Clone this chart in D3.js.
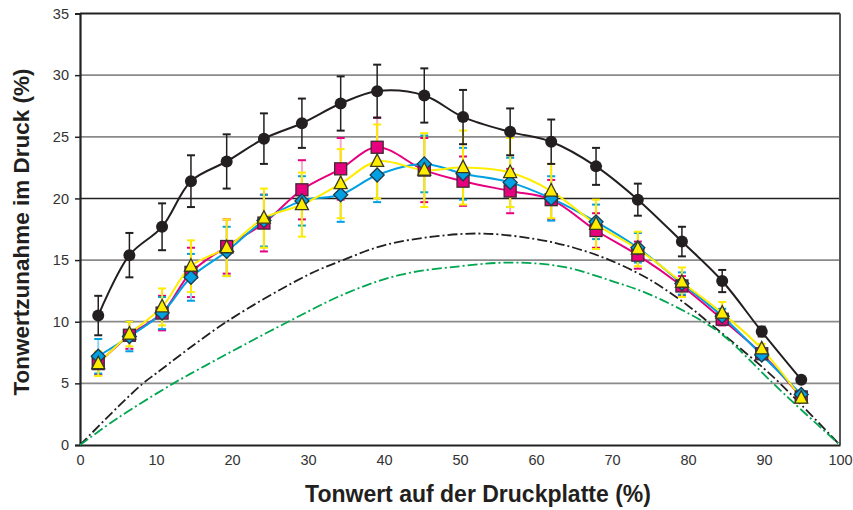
<!DOCTYPE html>
<html><head><meta charset="utf-8">
<script src="https://cdn.jsdelivr.net/npm/d3@7"></script>
<style>body{margin:0;background:#fff}svg{display:block}text{font-family:"Liberation Sans",Arial,sans-serif}</style>
</head><body><svg id="c" width="853" height="510"></svg>
<script>
const xVals = [2.4,6.5,10.8,14.6,19.3,24.2,29.2,34.3,39.1,45.3,50.4,56.6,62.0,67.9,73.4,79.2,84.5,89.7,94.9];
const blackVals = [10.5,15.4,17.7,21.4,23.0,24.85,26.1,27.7,28.7,28.35,26.6,25.4,24.6,22.6,19.9,16.5,13.3,9.2,5.3];
const blackErr  = [1.6,1.8,1.9,2.1,2.2,2.05,2.0,2.2,2.15,2.2,2.2,1.9,1.8,1.5,1.3,1.2,0.9,0.4,0.2];
const magentaVals = [6.6,8.9,10.7,14.0,16.1,18.0,20.7,22.4,24.15,22.3,21.4,20.6,19.9,17.4,15.4,12.9,10.2,7.4,3.9];
const magentaErr  = [0.9,1.1,1.4,2.0,2.2,2.3,2.4,2.5,2.4,2.6,2.0,1.8,1.6,1.4,1.1,0.8,0.5,0.3,0.2];
const yellowVals = [6.6,9.0,11.2,14.5,16.0,18.4,19.5,21.2,23.0,22.3,22.5,22.1,20.6,17.9,15.9,13.2,10.7,7.8,3.8];
const yellowErr  = [1.0,1.0,1.5,2.1,2.3,2.4,2.6,2.8,3.0,3.0,3.0,2.8,2.2,2.0,1.4,1.2,0.9,0.4,0.2];
const cyanVals = [7.2,8.8,10.7,13.6,15.7,18.2,19.8,20.3,21.9,22.8,22.0,21.3,20.0,18.1,16.0,13.1,10.45,7.3,4.1];
const cyanErr  = [1.4,1.2,1.3,1.9,2.0,2.1,2.0,2.2,2.2,2.3,2.1,2.0,1.8,1.4,1.2,0.9,0.6,0.3,0.2];
const refBlackX = [0,5,8.3,10,19.3,30,34.6,40,46.4,53,60,65,69.7,75,80,82.6,85,90,92.1,95,100];
const refBlackY = [0,3.1,5,5.8,10,13.8,15,16.2,16.9,17.15,16.7,16.0,15,13.4,11.3,10,8.8,6.2,5,3.2,0];
const refGreenX = [0,5,12.3,15.8,20,27.4,35,42.1,50,57,63.6,70,75,82,85,91.2,95,100];
const refGreenY = [0,2.2,5,6.2,7.6,10,12.3,13.8,14.5,14.8,14.45,13.3,12.2,10,8.7,5,2.8,0];
const xTicks = [0,10,20,30,40,50,60,70,80,90,100];
const yTicks = [0,5,10,15,20,25,30,35];

const svg = d3.select("#c");
const L=80,R=840,T=13.5,B=445;
const x = d3.scaleLinear().domain([0,100]).range([L,R]);
const y = d3.scaleLinear().domain([0,35]).range([B,T]);

// gridlines
svg.append("g").selectAll("line").data(yTicks.filter(v=>v>0&&v<35)).join("line")
  .attr("x1",L).attr("x2",R).attr("y1",d=>y(d)).attr("y2",d=>y(d))
  .attr("stroke",d=>d===20?"#222":"#8a8a8a").attr("stroke-width",d=>d===20?1.5:1.8);

// frame top/right
svg.append("line").attr("x1",L).attr("x2",R).attr("y1",T).attr("y2",T).attr("stroke","#222").attr("stroke-width",1.8);
svg.append("line").attr("x1",R).attr("x2",R).attr("y1",T).attr("y2",B).attr("stroke","#555").attr("stroke-width",2);

// axes
const ya = svg.append("g").attr("transform",`translate(${L},0)`)
  .call(d3.axisLeft(y).tickValues(yTicks).tickSize(5).tickPadding(6));
const xa = svg.append("g").attr("transform",`translate(0,${B})`)
  .call(d3.axisBottom(x).tickValues(xTicks).tickSize(0).tickPadding(10));
[ya,xa].forEach(g=>{
  g.select(".domain").attr("stroke","#222").attr("stroke-width",2.2);
  g.selectAll(".tick line").attr("stroke","#222").attr("stroke-width",1.5);
  g.selectAll("text").attr("font-size",14.5).attr("fill","#333").attr("font-family","Liberation Sans, Arial, sans-serif");
});

// reference curves
function refCurve(xs,ys,color){
  const pts = xs.map((v,i)=>[v,ys[i]]);
  svg.append("path").datum(pts)
    .attr("d",d3.line().x(d=>x(d[0])).y(d=>y(d[1])).curve(d3.curveCatmullRom.alpha(0.5)))
    .attr("fill","none").attr("stroke",color).attr("stroke-width",1.8)
    .attr("stroke-dasharray","10,3,2,3");
}
refCurve(refBlackX,refBlackY,"#231f20");
refCurve(refGreenX,refGreenY,"#00a650");

const series = [
  {vals:magentaVals, err:magentaErr, color:"#e6007e", bar:"#f7a9c8", shape:"square"},
  {vals:cyanVals, err:cyanErr, color:"#00a0e3", bar:"#8fd3f0", shape:"diamond"},
  {vals:yellowVals, err:yellowErr, color:"#ffed00", bar:"#f7b23a", shape:"triangle"},
  {vals:blackVals, err:blackErr, color:"#231f20", bar:"#231f20", shape:"circle"}
];

const lineGen = d3.line().x(d=>x(d[0])).y(d=>y(d[1])).curve(d3.curveCatmullRom.alpha(0.5));

// error bars
series.forEach(s=>{
  const g = svg.append("g");
  xVals.forEach((xv,i)=>{
    const cx=x(xv), y1=y(s.vals[i]+s.err[i]), y2=y(s.vals[i]-s.err[i]);
    const isBlack = s.shape==="circle";
    g.append("line").attr("x1",cx).attr("x2",cx).attr("y1",y1).attr("y2",y2)
      .attr("stroke", isBlack?"#231f20":(s.shape==="triangle"?"#ffe600":s.bar)).attr("stroke-width",isBlack?1.5:2);
    [y1,y2].forEach(yy=>g.append("line").attr("x1",cx-4).attr("x2",cx+4).attr("y1",yy).attr("y2",yy)
      .attr("stroke",s.color).attr("stroke-width",2));
  });
});

// lines
series.forEach(s=>{
  svg.append("path").datum(xVals.map((v,i)=>[v,s.vals[i]]))
    .attr("d",lineGen).attr("fill","none").attr("stroke",s.color).attr("stroke-width",2);
});

// markers
series.forEach(s=>{
  const g = svg.append("g");
  xVals.forEach((xv,i)=>{
    const cx=x(xv), cy=y(s.vals[i]);
    if(s.shape==="circle"){
      g.append("circle").attr("cx",cx).attr("cy",cy).attr("r",6).attr("fill","#231f20");
    } else if(s.shape==="square"){
      g.append("rect").attr("x",cx-6).attr("y",cy-6).attr("width",12).attr("height",12)
        .attr("fill",s.color).attr("stroke","#3a2a30").attr("stroke-width",1.3);
    } else if(s.shape==="diamond"){
      g.append("path").attr("d",`M${cx},${cy-7}L${cx+7},${cy}L${cx},${cy+7}L${cx-7},${cy}Z`)
        .attr("fill",s.color).attr("stroke","#1f3a4a").attr("stroke-width",1.3);
    } else {
      g.append("path").attr("d",`M${cx},${cy-7.5}L${cx+6.5},${cy+5}L${cx-6.5},${cy+5}Z`)
        .attr("fill",s.color).attr("stroke","#3a3a20").attr("stroke-width",1.3);
    }
  });
});

// axis titles
svg.append("text").attr("x",478).attr("y",502).attr("text-anchor","middle")
  .attr("font-size",23).attr("font-weight","bold").attr("fill","#231f20").text("Tonwert auf der Druckplatte (%)");
svg.append("text").attr("transform","translate(29,232) rotate(-90)").attr("text-anchor","middle")
  .attr("font-size",22.5).attr("font-weight","bold").attr("fill","#231f20").text("Tonwertzunahme im Druck (%)");
</script></body></html>
